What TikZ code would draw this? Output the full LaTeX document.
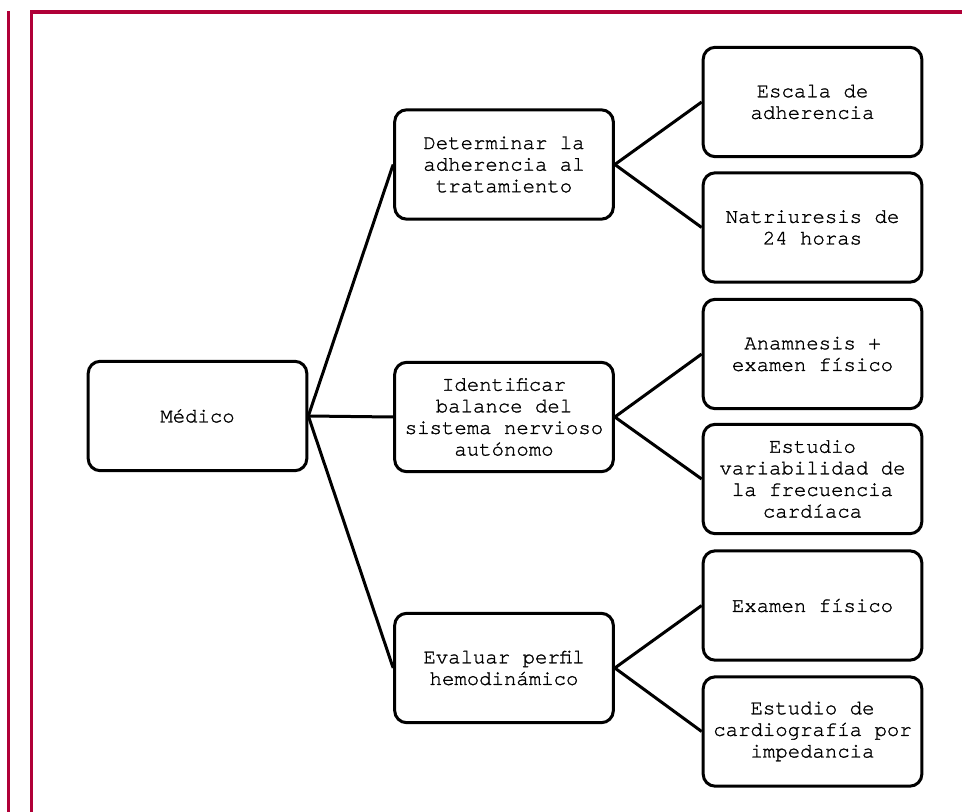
\documentclass[tikz,border=0pt]{standalone}
\usepackage{fontspec}
\setmonofont[FakeBold=1.2]{texgyrecursor-regular.otf}
\definecolor{framered}{RGB}{176,0,56}
\begin{document}
\begin{tikzpicture}[x=0.75pt,y=-0.75pt,
  box/.style={draw=black,line width=2.25pt,rounded corners=9pt,fill=white,
    minimum width=164pt,minimum height=82pt,align=center,inner sep=2pt,
    font=\ttfamily\fontsize{15.5}{16.2}\selectfont},
  link/.style={draw=black,line width=2.25pt},
  redline/.style={draw=framered,line width=2.4pt}]
\useasboundingbox (0,0) rectangle (962,812);
\coordinate (o1) at (8.5,11);
\coordinate (o2) at (8.5,812);
\coordinate (i1) at (31.5,812);
\coordinate (i2) at (31.5,12);
\coordinate (i3) at (962,12);
\draw[redline] (o1) -- (o2);
\draw[redline,line cap=rect] (i1) -- (i2) -- (i3);

\node[box] (med) at (197.5,416) {Médico};
\node[box] (det) at (504,164.5) {Determinar la\\adherencia al\\tratamiento};
\node[box] (ide) at (504,417) {Identificar\\balance del\\sistema nervioso\\autónomo};
\node[box] (eva) at (504,668) {Evaluar perfil\\hemodinámico};

\node[box] (esc) at (812.5,102) {Escala de\\adherencia};
\node[box] (nat) at (812.5,227.5) {Natriuresis de\\24 horas};
\node[box] (ana) at (812.5,354) {Anamnesis +\\examen físico};
\node[box] (vfc) at (812.5,479) {Estudio\\variabilidad de\\la frecuencia\\cardíaca};
\node[box] (exa) at (812.5,605.5) {Examen físico};
\node[box] (car) at (812.5,731.5) {Estudio de\\cardiografía por\\impedancia};

\draw[link] (med.east) -- (det.west);
\draw[link] (med.east) -- (ide.west);
\draw[link] (med.east) -- (eva.west);
\draw[link] (det.east) -- (esc.west);
\draw[link] (det.east) -- (nat.west);
\draw[link] (ide.east) -- (ana.west);
\draw[link] (ide.east) -- (vfc.west);
\draw[link] (eva.east) -- (exa.west);
\draw[link] (eva.east) -- (car.west);
\end{tikzpicture}
\end{document}
